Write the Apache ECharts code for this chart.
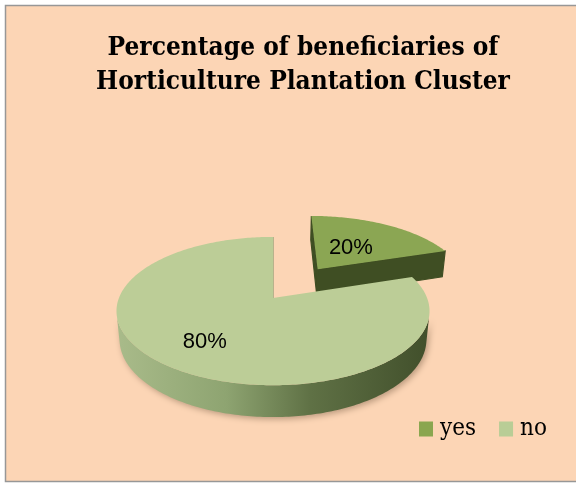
<!DOCTYPE html>
<html>
<head>
<meta charset="utf-8">
<script src="https://cdn.jsdelivr.net/npm/echarts@6/dist/echarts.min.js"></script>
<style>
  html, body { margin: 0; padding: 0; background: #ffffff; }
  #chart { width: 576px; height: 483px; }
</style>
</head>
<body>
<div id="chart"></div>
<script>
// Chart content
const titleLines = ['Percentage of beneficiaries of', 'Horticulture Plantation Cluster'];
const categories = ['yes', 'no'];
const shares = [20, 80];
const shareLabels = ['20%', '80%'];

// Palette per category: top face, side (light end, dark end), cut wall
const topColors = ['#8ba653', '#bccd97'];
const sideLight = ['#5a6d34', '#a9bb8a'];
const sideDark = ['#3c4a22', '#414f2b'];
const wallColors = ['#3f4e23', '#8d9c72'];

// Tilted-disc camera: origin on screen, focal length, distance, tilt and disc thickness
const VIEW = { ox: 273, oy: 298, f: 775, dist: 5.03, tilt: 27.8 * Math.PI / 180, depth: 0.21 };
const S = Math.sin(VIEW.tilt), C = Math.cos(VIEW.tilt);
const CAM = [0, -VIEW.dist * C, VIEW.dist * S];
const EXPLODE = 0.53;          // pull-out of the highlighted wedge, in disc radii
const labelRadius = [0.45, 0.68];

function project(X, Y, Z) {
  const u = Y * S + Z * C;
  const w = VIEW.dist + Y * C - Z * S;
  return [VIEW.ox + VIEW.f * X / w, VIEW.oy - VIEW.f * u / w];
}

const total = shares.reduce((a, b) => a + b, 0);
const starts = [];
shares.reduce((acc, v, i) => { starts[i] = acc; return acc + v; }, 0);

function makeRender(idx) {
  return function (params, api) {
    const startVal = api.value(0), val = api.value(1), sum = api.value(2);
    const a = startVal / sum * Math.PI * 2;
    const b = (startVal + val) / sum * Math.PI * 2;
    const mid = (a + b) / 2;
    const ex = idx === 0 ? EXPLODE * Math.sin(mid) : 0;
    const ey = idx === 0 ? EXPLODE * Math.cos(mid) : 0;
    const h = -VIEW.depth;
    const rim = (th, z) => project(ex + Math.sin(th), ey + Math.cos(th), z);
    const hub = (z) => project(ex, ey, z);
    const children = [];

    // cut walls facing the camera
    const walls = [
      { th: a, n: [-Math.cos(a), Math.sin(a)] },
      { th: b, n: [Math.cos(b), -Math.sin(b)] }
    ];
    walls.forEach(wl => {
      const px = ex + 0.5 * Math.sin(wl.th), py = ey + 0.5 * Math.cos(wl.th);
      const d = (CAM[0] - px) * wl.n[0] + (CAM[1] - py) * wl.n[1];
      if (d > -1e-6) {
        children.push({
          type: 'polygon',
          shape: { points: [hub(0), rim(wl.th, 0), rim(wl.th, h), hub(h)] },
          style: { fill: wallColors[idx], stroke: wallColors[idx], lineWidth: 1.2 }
        });
      }
    });

    // visible part of the curved rim
    const steps = Math.max(8, Math.round((b - a) / (Math.PI / 180)));
    const vis = [];
    for (let k = 0; k <= steps; k++) {
      const th = a + (b - a) * k / steps;
      const px = ex + Math.sin(th), py = ey + Math.cos(th);
      const d = (CAM[0] - px) * Math.sin(th) + (CAM[1] - py) * Math.cos(th);
      if (d > 0) vis.push(th);
    }
    if (vis.length > 1) {
      const topArc = vis.map(th => rim(th, 0));
      const botArc = vis.map(th => rim(th, h)).reverse();
      children.push({
        type: 'polygon',
        shape: { points: topArc.concat(botArc) },
        style: {
          fill: new echarts.graphic.LinearGradient(0, 0, 1, 0, [
            { offset: 0, color: sideLight[idx] },
            { offset: 0.35, color: idx === 1 ? '#8ea471' : sideLight[idx] },
            { offset: 0.62, color: idx === 1 ? '#5f7145' : sideDark[idx] },
            { offset: 1, color: sideDark[idx] }
          ]),
          shadowBlur: 6, shadowColor: 'rgba(60,40,20,0.35)', shadowOffsetX: 2, shadowOffsetY: 2
        }
      });
    }

    // top face
    const topPts = [hub(0)];
    for (let k = 0; k <= steps; k++) topPts.push(rim(a + (b - a) * k / steps, 0));
    children.push({
      type: 'polygon',
      shape: { points: topPts },
      style: { fill: topColors[idx] }
    });

    // value label on the top face
    const r = labelRadius[idx];
    const lp = project(ex + r * Math.sin(mid), ey + r * Math.cos(mid), 0);
    children.push({
      type: 'text',
      style: {
        text: shareLabels[idx], x: lp[0], y: lp[1],
        align: 'center', verticalAlign: 'middle',
        fontFamily: 'Liberation Sans, Arial, sans-serif', fontSize: 22, fill: '#000000'
      }
    });

    return { type: 'group', children: children };
  };
}

const chart = echarts.init(document.getElementById('chart'));
chart.setOption({
  animation: false,
  backgroundColor: 'transparent',
  graphic: [{
    type: 'rect', z: -10, silent: true,
    shape: { x: 5.5, y: 5.5, width: 620, height: 476 },
    style: { fill: '#fcd5b5', stroke: '#979797', lineWidth: 1.5 }
  }],
  title: {
    text: titleLines.join('\n'),
    left: 298, top: 26, textAlign: 'center',
    textStyle: {
      fontFamily: 'DejaVu Serif Condensed, DejaVu Serif, serif',
      fontWeight: 'bold', fontSize: 26, lineHeight: 34, color: '#000000'
    }
  },
  legend: {
    data: categories,
    left: 419, top: 417, padding: 0,
    icon: 'rect', itemWidth: 14, itemHeight: 15, itemGap: 23,
    textStyle: {
      fontFamily: 'DejaVu Serif Condensed, DejaVu Serif, serif',
      fontSize: 24, color: '#000000', padding: [0, 0, 0, 2]
    }
  },
  series: categories.map((name, i) => ({
    type: 'custom',
    name: name,
    coordinateSystem: 'none',
    silent: true,
    itemStyle: { color: i === 0 ? '#8aa64f' : '#b9cd96' },
    renderItem: makeRender(i),
    data: [[starts[i], shares[i], total]]
  }))
});
</script>
</body>
</html>
